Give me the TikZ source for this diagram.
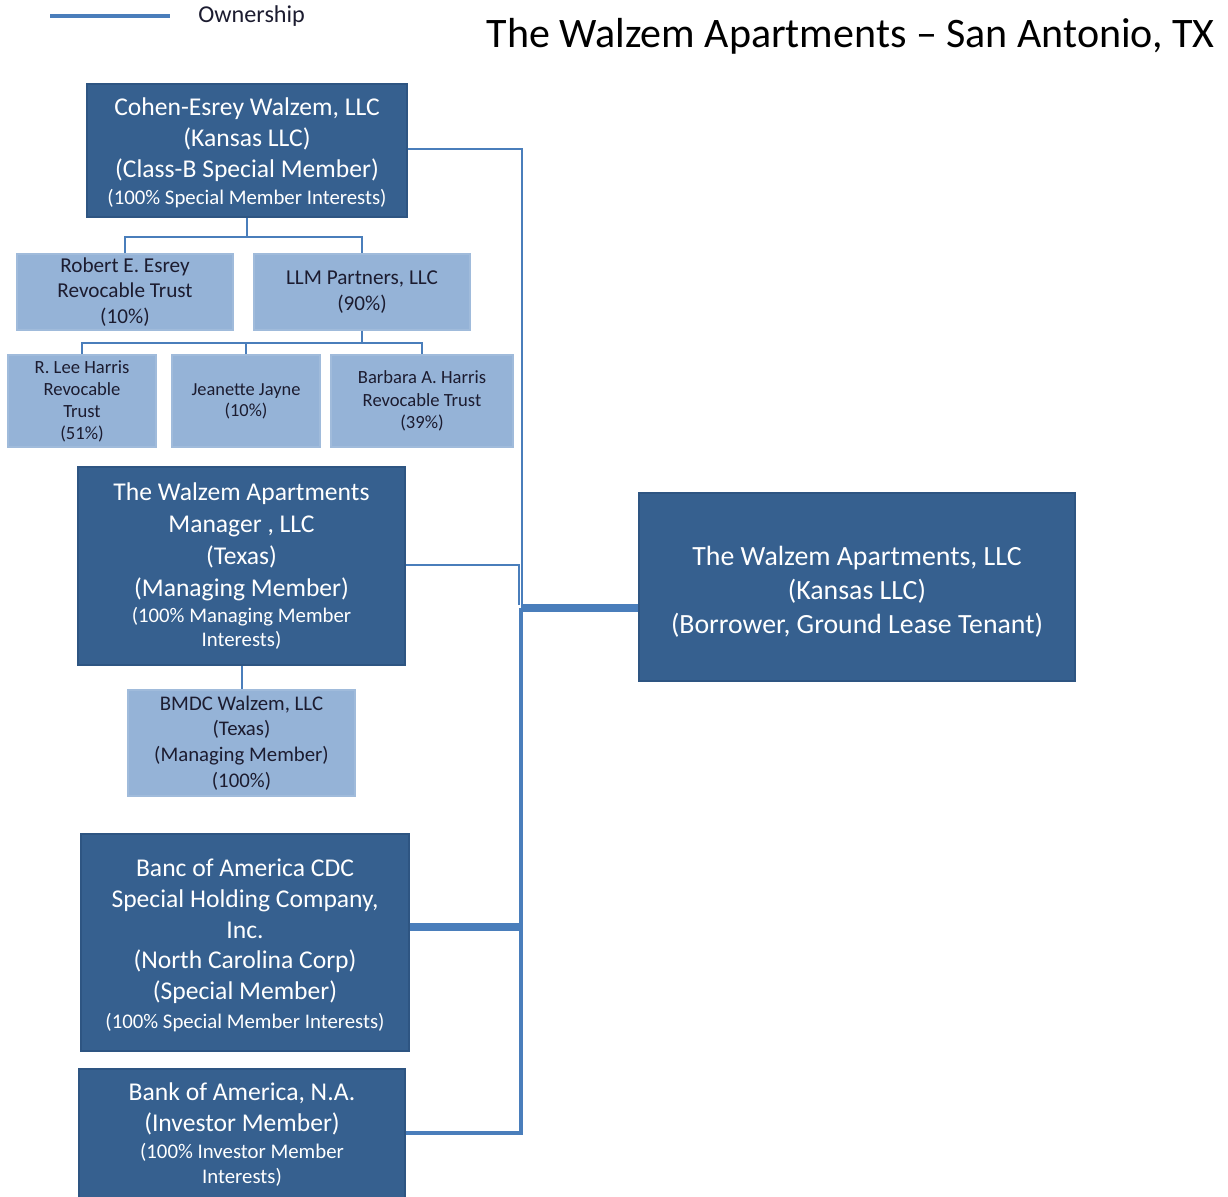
\documentclass[tikz,border=0pt]{standalone}
\usepackage{fontspec}
\setmainfont{Carlito}
\usetikzlibrary{calc}
\definecolor{darkfill}{HTML}{36608F}
\definecolor{darkedge}{HTML}{2E5582}
\definecolor{lightfill}{HTML}{95B3D7}
\definecolor{linkblue}{HTML}{4A7EBB}
\definecolor{inktext}{HTML}{1C1C30}
% smaller type for the interest notes inside the dark boxes
\newcommand{\notesize}{\fontsize{10.4}{13}\selectfont}
\begin{document}
\begin{tikzpicture}[x=0.5pt,y=-0.5pt,
  darkbox/.style={draw=darkedge,fill=darkfill,text=white,align=flush center,inner sep=0pt,line width=0.6pt,
    font=\fontsize{12.8}{15.4}\selectfont},
  lightbox/.style={draw=lightfill!90!white,fill=lightfill,text=inktext,align=flush center,inner sep=0pt,line width=0.6pt},
  boxtext/.style={text=white,align=flush center,inner sep=0pt},
  link/.style={draw=linkblue,line width=1pt},
  linkmid/.style={draw=linkblue,line width=1.6pt},
  linkthick/.style={draw=linkblue,line width=4pt},
]
\useasboundingbox[fill=white] (0,0) rectangle (1228,1196);

% legend and heading
\coordinate (lg1) at (50,16);
\coordinate (lg2) at (170,16);
\draw[linkblue,line width=2pt] (lg1) -- (lg2);
\node[anchor=west,text=inktext,font=\fontsize{12.1}{14}\selectfont,inner sep=0pt] (legend) at (198,16) {Ownership};
\node[anchor=east,text=black,font=\fontsize{21}{25}\selectfont,inner sep=0pt] (title) at (1215,36) {The Walzem Apartments -- San Antonio, TX};

% owners of the borrower
\node[darkbox,minimum width=160pt,minimum height=66.5pt] (cohen) at (247,150.5) {};
\node[boxtext,text width=156pt,font=\fontsize{12.8}{15.4}\selectfont] (cohentext) at ($(cohen.center)+(0,2)$)
  {Cohen-Esrey Walzem, LLC\\(Kansas LLC)\\(Class-B Special Member)\\[-1.9pt]
   \notesize (100\% Special Member Interests)};

\node[lightbox,minimum width=108pt,minimum height=38pt,text width=104pt,font=\fontsize{10.6}{12.8}\selectfont] (robert) at (125,292)
  {Robert E. Esrey\\Revocable Trust\\(10\%)};
\node[lightbox,minimum width=108pt,minimum height=38pt,text width=104pt,font=\fontsize{10.6}{13.2}\selectfont] (llm) at (362,292)
  {LLM Partners, LLC\\(90\%)};

\node[lightbox,minimum width=74pt,minimum height=46pt,text width=72pt,font=\fontsize{9.3}{11}\selectfont] (rlee) at (82,401)
  {R. Lee Harris\\Revocable\\Trust\\(51\%)};
\node[lightbox,minimum width=74pt,minimum height=46pt,text width=72pt,font=\fontsize{9.2}{10.5}\selectfont] (jeanette) at (246,401)
  {Jeanette Jayne\\(10\%)};
\node[lightbox,minimum width=91pt,minimum height=46pt,text width=88pt,font=\fontsize{9.3}{11.3}\selectfont] (barbara) at (422,401)
  {Barbara A. Harris\\Revocable Trust\\(39\%)};

\node[darkbox,minimum width=163.5pt,minimum height=99pt,text width=160pt,font=\fontsize{12.8}{15.9}\selectfont] (manager) at (241.5,566)
  {The Walzem Apartments\\Manager , LLC\\(Texas)\\(Managing Member)\\[0.1pt]
   \notesize (100\% Managing Member\\[-3.9pt]\notesize Interests)};

\node[lightbox,minimum width=113.5pt,minimum height=53pt,text width=110pt,font=\fontsize{10.4}{12.8}\selectfont] (bmdc) at (241.5,743)
  {BMDC Walzem, LLC\\(Texas)\\(Managing Member)\\(100\%)};

\node[darkbox,minimum width=164pt,minimum height=108.5pt] (banc) at (245,942.5) {};
\node[boxtext,text width=160pt,font=\fontsize{12.8}{15.4}\selectfont] (banctext) at ($(banc.center)+(0,3)$)
  {Banc of America CDC\\Special Holding Company,\\Inc.\\(North Carolina Corp)\\(Special Member)\\[-0.9pt]
   \notesize (100\% Special Member Interests)};

% this box runs on past the lower edge
\node[darkbox,minimum width=163pt,minimum height=65.5pt,text width=159pt] (bank) at (242,1134.5)
  {Bank of America, N.A.\\(Investor Member)\\[0.6pt]
   \notesize (100\% Investor Member\\[-2.9pt]\notesize Interests)};

% the borrower
\node[darkbox,minimum width=218pt,minimum height=94pt] (walzem) at (857,587) {};
\node[boxtext,text width=214pt,font=\fontsize{13.9}{17}\selectfont] (walzemtext) at ($(walzem.center)+(0,5)$)
  {The Walzem Apartments, LLC\\(Kansas LLC)\\(Borrower, Ground Lease Tenant)};

% ownership links among the upper tiers
\draw[link] (cohen.south) -- ++(0,19) coordinate (cj) -| (robert.north);
\draw[link] (cj) -| (llm.north);
\draw[link] (llm.south) -- ++(0,12) coordinate (lj) -| (rlee.north);
\draw[link] (lj) -| (jeanette.north);
\draw[link] (lj) -| (barbara.north);
\draw[link] (manager.south) -- (bmdc.north);

% trunk joining the members to the borrower
\coordinate (hub) at (521,608);
\coordinate (bancjoin) at (521,927);
\coordinate (bankjoin) at (521,1133);
\coordinate (cohenout) at ($(cohen.east)+(0,-1.5)$);
\coordinate (managerout) at ($(manager.east)+(0,-1)$);
\draw[link] (cohenout) -- ($(cohenout -| hub)+(1,0)$) -- ($(hub)+(1,-3)$);
\draw[link] (managerout) -- ($(managerout -| hub)+(-2,0)$) -- ($(hub)+(-2,-3)$);
\draw[linkthick] (hub) -- (hub -| walzem.west);
\draw[linkmid,line width=2pt] (hub) -- (bancjoin);
\draw[linkthick] (bancjoin -| banc.east) -- (bancjoin);
\draw[linkmid] (bankjoin -| bank.east) -- (bankjoin) -- (bancjoin);
\end{tikzpicture}
\end{document}
